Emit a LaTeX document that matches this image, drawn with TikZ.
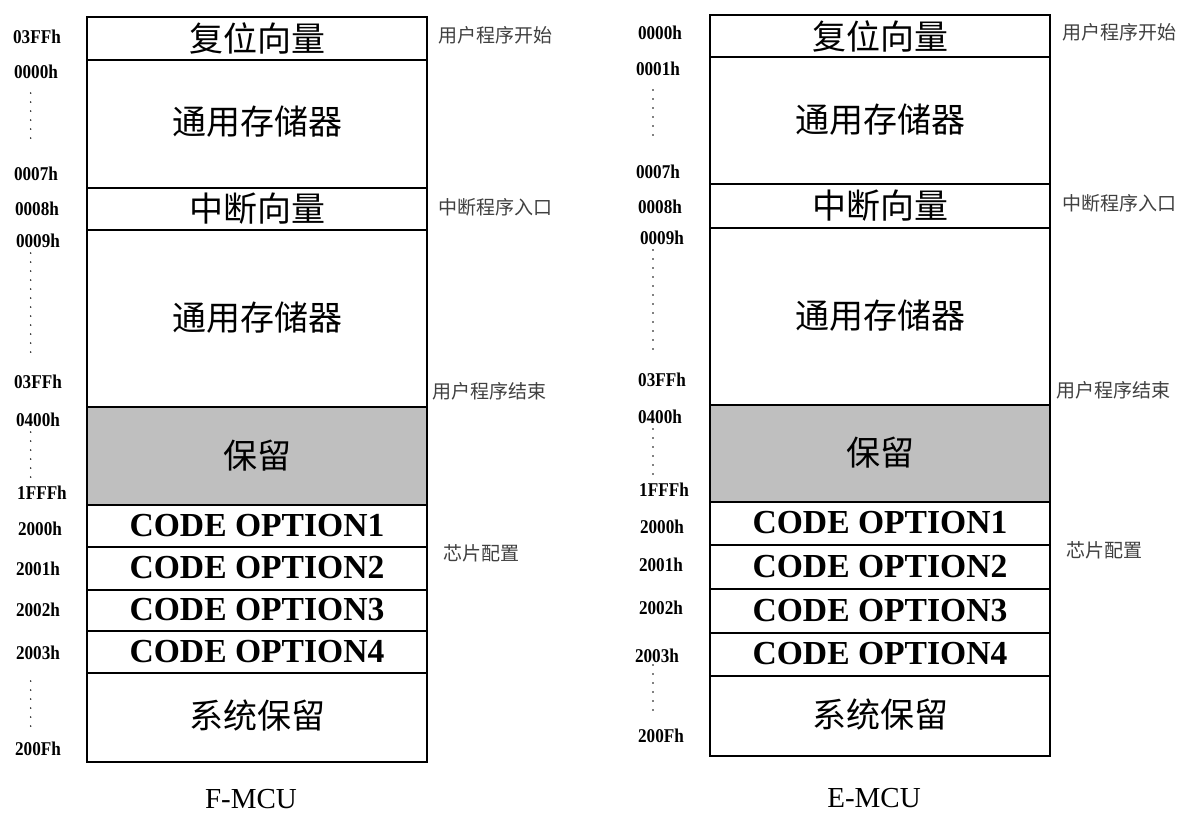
\documentclass[tikz,border=0pt]{standalone}
\usepackage{fontspec}
\setmainfont{Liberation Serif}
\newfontfamily\cjk{Noto Sans CJK SC}
\newfontfamily\addrfont[FakeStretch=0.88]{Liberation Serif}
\begin{document}
\begin{tikzpicture}[x=1pt,y=-1pt,
  box/.style={line width=2.5pt},
  sep/.style={line width=2.3pt},
  grayfill/.style={fill=black!25},
  big/.style={inner sep=0pt,font=\cjk\fontsize{34}{40}\selectfont},
  code/.style={inner sep=0pt,font=\bfseries\fontsize{33.6}{38}\selectfont},
  addr/.style={inner sep=0pt,font=\addrfont\bfseries\fontsize{19.5}{22}\selectfont},
  note/.style={inner sep=0pt,anchor=west,text=black!75,font=\cjk\fontsize{19}{22}\selectfont},
  mcucap/.style={inner sep=0pt,font=\fontsize{29}{34}\selectfont},
  dotmark/.style={fill=black}
]
\useasboundingbox[fill=white] (0,0) rectangle (1178,814);

% ---------------- left panel (F-MCU)
\fill[grayfill] (87,407) rectangle (427,505);
\draw[box] (87,17) rectangle (427,762);
\foreach \yy in {60,188,230,407,505,547,590,631,673}
  \draw[sep] (87,\yy) -- (427,\yy);

\node[big] (lreset) at (257,38) {复位向量};
\node[big] (lmem1) at (257,122) {通用存储器};
\node[big] (lint) at (257,209) {中断向量};
\node[big] (lmem2) at (257,318) {通用存储器};
\node[big] (lres) at (257,456) {保留};
\node[code] (lco1) at (257,526) {CODE OPTION1};
\node[code] (lco2) at (257,568) {CODE OPTION2};
\node[code] (lco3) at (257,610) {CODE OPTION3};
\node[code] (lco4) at (257,652) {CODE OPTION4};
\node[big] (lsys) at (257,716) {系统保留};
\node[mcucap] (lcap) at (251,799) {F-MCU};

\node[addr] (la1) at (37,37) {03FFh};
\node[addr] (la2) at (36,72) {0000h};
\node[addr] (la3) at (36,174) {0007h};
\node[addr] (la4) at (37,209) {0008h};
\node[addr] (la5) at (38,241) {0009h};
\node[addr] (la6) at (38,382) {03FFh};
\node[addr] (la7) at (38,420) {0400h};
\node[addr] (la8) at (42,493) {1FFFh};
\node[addr] (la9) at (40,529) {2000h};
\node[addr] (la10) at (38,569) {2001h};
\node[addr] (la11) at (38,610) {2002h};
\node[addr] (la12) at (38,653) {2003h};
\node[addr] (la13) at (38,749) {200Fh};

\foreach \yy in {93,102,...,139} \fill[dotmark] (30.7,\yy) circle (0.8);
\foreach \yy in {253,262,...,354} \fill[dotmark] (30.7,\yy) circle (0.8);
\foreach \yy in {432,441,...,478} \fill[dotmark] (30.7,\yy) circle (0.8);
\foreach \yy in {681,690,...,727} \fill[dotmark] (30.7,\yy) circle (0.8);

\node[note] (ln1) at (438,35) {用户程序开始};
\node[note] (ln2) at (438,207) {中断程序入口};
\node[note] (ln3) at (432,391) {用户程序结束};
\node[note] (ln4) at (443,553) {芯片配置};

% ---------------- right panel (E-MCU)
\fill[grayfill] (710,405) rectangle (1050,502);
\draw[box] (710,15) rectangle (1050,756);
\foreach \yy in {57,184,228,405,502,545,589,633,676}
  \draw[sep] (710,\yy) -- (1050,\yy);

\node[big] (rreset) at (880,36) {复位向量};
\node[big] (rmem1) at (880,120) {通用存储器};
\node[big] (rint) at (880,206) {中断向量};
\node[big] (rmem2) at (880,316) {通用存储器};
\node[big] (rres) at (880,453) {保留};
\node[code] (rco1) at (880,523) {CODE OPTION1};
\node[code] (rco2) at (880,567) {CODE OPTION2};
\node[code] (rco3) at (880,611) {CODE OPTION3};
\node[code] (rco4) at (880,654) {CODE OPTION4};
\node[big] (rsys) at (880,715) {系统保留};
\node[mcucap] (rcap) at (874,798) {E-MCU};

\node[addr] (ra1) at (660,33) {0000h};
\node[addr] (ra2) at (658,69) {0001h};
\node[addr] (ra3) at (658,172) {0007h};
\node[addr] (ra4) at (660,207) {0008h};
\node[addr] (ra5) at (662,238) {0009h};
\node[addr] (ra6) at (662,380) {03FFh};
\node[addr] (ra7) at (660,417) {0400h};
\node[addr] (ra8) at (664,490) {1FFFh};
\node[addr] (ra9) at (662,527) {2000h};
\node[addr] (ra10) at (661,565) {2001h};
\node[addr] (ra11) at (661,608) {2002h};
\node[addr] (ra12) at (657,656) {2003h};
\node[addr] (ra13) at (661,736) {200Fh};

\foreach \yy in {90,99,...,137} \fill[dotmark] (653,\yy) circle (0.8);
\foreach \yy in {250,259,...,351} \fill[dotmark] (653,\yy) circle (0.8);
\foreach \yy in {429,438,...,477} \fill[dotmark] (653,\yy) circle (0.8);
\foreach \yy in {665,674,...,712} \fill[dotmark] (653,\yy) circle (0.8);

\node[note] (rn1) at (1062,32) {用户程序开始};
\node[note] (rn2) at (1062,203) {中断程序入口};
\node[note] (rn3) at (1056,390) {用户程序结束};
\node[note] (rn4) at (1066,550) {芯片配置};
\end{tikzpicture}
\end{document}
